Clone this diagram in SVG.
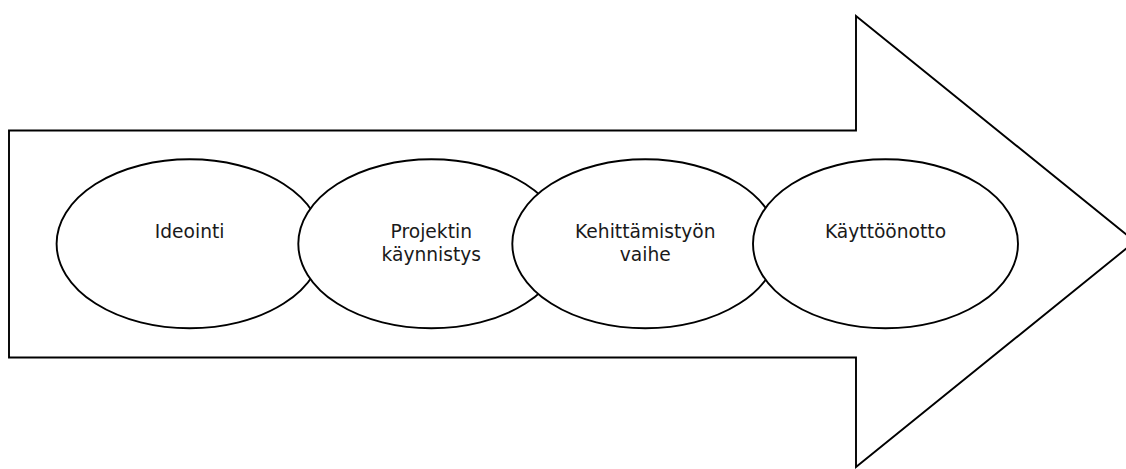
<svg xmlns="http://www.w3.org/2000/svg" width="1126" height="469" viewBox="0 0 1126 469">
<style>
.shape{fill:#fff;stroke:#000;stroke-width:1.9}
.lbl{font-family:"DejaVu Sans",Verdana,sans-serif;font-size:18.67px;fill:#1a1a1a;text-anchor:middle}
</style>
<rect width="1126" height="469" fill="#fff"/>
<g id="arrow">
<polygon class="shape" points="9,130.5 856,130.5 856,16 1135,241.5 856,467 856,357.5 9,357.5"/>
</g>
<g id="connectors"></g>
<g id="ideointi">
<ellipse class="shape" cx="189.6" cy="243.8" rx="133" ry="84.5"/>
<text class="lbl" x="189.6" y="237.5">Ideointi</text>
</g>
<g id="projektin-kaynnistys">
<ellipse class="shape" cx="431.3" cy="243.8" rx="133" ry="84.5"/>
<text class="lbl" x="431.3" y="237.5">Projektin</text>
<text class="lbl" x="431.3" y="260.7">käynnistys</text>
</g>
<g id="kehittamistyon-vaihe">
<ellipse class="shape" cx="645.3" cy="243.8" rx="133" ry="84.5"/>
<text class="lbl" x="645.3" y="237.5">Kehittämistyön</text>
<text class="lbl" x="645.3" y="260.5">vaihe</text>
</g>
<g id="kayttoonotto">
<ellipse class="shape" cx="885.5" cy="243.8" rx="132.5" ry="84.5"/>
<text class="lbl" x="885.5" y="237.7">Käyttöönotto</text>
</g>
</svg>
